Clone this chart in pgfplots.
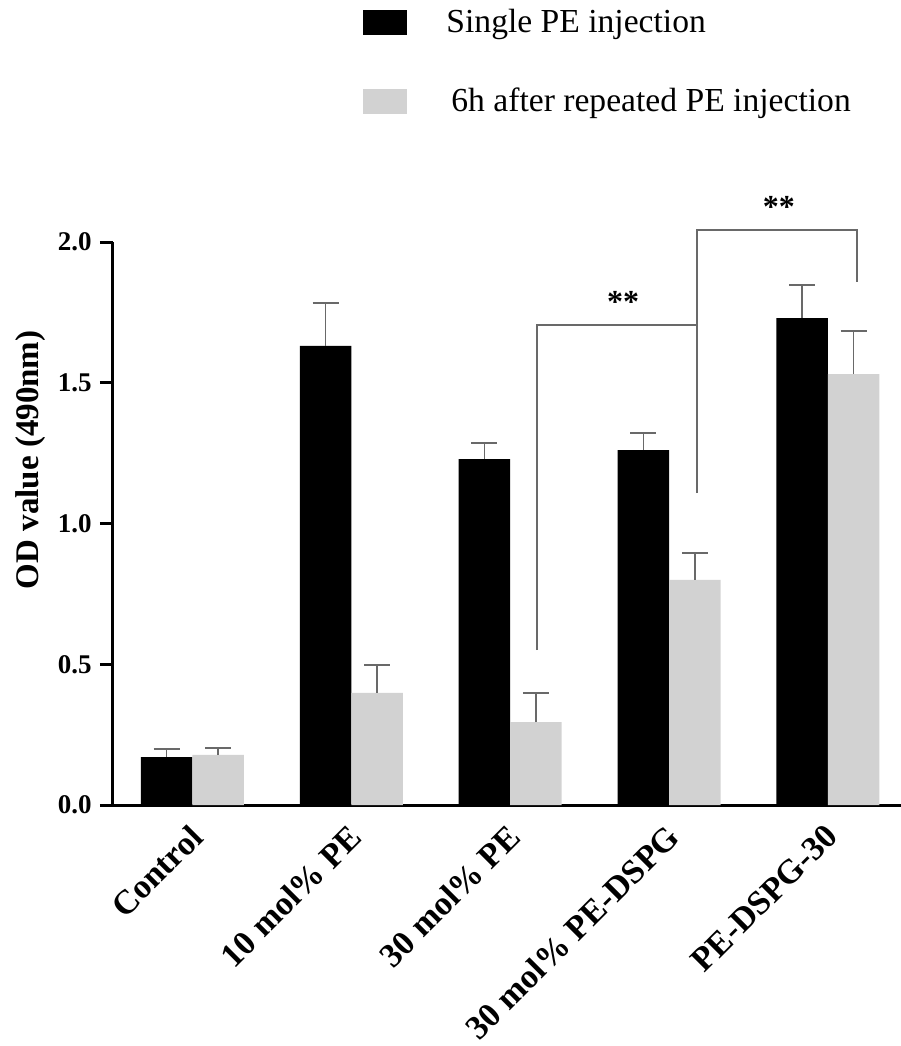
\documentclass[border=0pt]{standalone}
\usepackage{fontspec}
\setmainfont{Liberation Serif}
\usepackage{pgfplots}
\usepackage{pgfplotstable}
\pgfplotsset{compat=1.18}
\definecolor{barGray}{RGB}{210,210,210}
\definecolor{lineGray}{RGB}{105,105,105}

\pgfplotstableread{
x y err
0 0.170 0.030
1 1.631 0.152
2 1.229 0.057
3 1.261 0.060
4 1.730 0.117
}\singledata
\pgfplotstableread{
x y err
0 0.178 0.025
1 0.398 0.100
2 0.294 0.104
3 0.800 0.095
4 1.531 0.153
}\repeatdata

\begin{document}
\begin{tikzpicture}
\begin{axis}[
  scale only axis,
  width=394pt, height=281.5pt,
  xmin=-0.5, xmax=4.46,
  ymin=0, ymax=2,
  axis lines*=left,
  axis line style={-, line width=1.5pt, black},
  clip=false,
  ytick={0,0.5,1,1.5,2},
  yticklabel style={/pgf/number format/fixed, /pgf/number format/fixed zerofill, /pgf/number format/precision=1, /pgf/number format/assume math mode=true,
    font=\bfseries\fontsize{13.5}{14}\selectfont, inner sep=1pt, xshift=-3pt},
  tick align=outside,
  major tick length=6.5pt,
  ytick style={line width=1.5pt, black},
  xtick={0,1,2,3,4},
  xticklabels={Control, 10 mol\% PE, 30 mol\% PE, 30 mol\% PE-DSPG, PE-DSPG-30},
  xtick style={draw=none},
  xticklabel style={rotate=45, anchor=north east, font=\bfseries\fontsize{17}{18}\selectfont, inner sep=0pt, xshift=-3pt, yshift=0pt},
  legend style={at={(0.3173,1.3193)}, anchor=west, draw=none, fill=none, inner sep=0pt,
    font=\fontsize{16.8}{18}\selectfont, row sep=22.25pt, cells={anchor=west},
    /tikz/every odd column/.append style={column sep=17.5pt}},
  legend image code/.code={\fill (0pt,-6.25pt) rectangle (22pt,6.25pt);},
]
\addplot[ybar, bar width=0.324, bar shift=-0.162, fill=black, draw=none]
  table[x=x, y=y] {\singledata};
\addlegendentry{Single PE injection}
\addplot[ybar, bar width=0.324, bar shift=0.162, fill=barGray, draw=none]
  table[x=x, y=y] {\repeatdata};
\addlegendentry{\hspace{2.5pt}6h after repeated PE injection}

% error bars (upper only), placed at bar centres
\addplot[forget plot, draw=none, mark=none,
  error bars/.cd, y dir=plus, y explicit,
  error bar style={lineGray, line width=0.8pt},
  error mark options={lineGray, line width=0.8pt, mark size=6.5pt, rotate=90}]
  table[x expr=\thisrow{x}-0.162, y=y, y error=err] {\singledata};
\addplot[forget plot, draw=none, mark=none,
  error bars/.cd, y dir=plus, y explicit,
  error bar style={lineGray, line width=0.8pt},
  error mark options={lineGray, line width=0.8pt, mark size=6.5pt, rotate=90}]
  table[x expr=\thisrow{x}+0.162, y=y, y error=err] {\repeatdata};

% significance brackets
\draw[lineGray, line width=0.8pt] (axis cs:2.170,0.55) -- (axis cs:2.170,1.705) -- (axis cs:3.176,1.705);
\draw[lineGray, line width=0.8pt] (axis cs:3.176,1.108) -- (axis cs:3.176,2.043) -- (axis cs:4.182,2.043) -- (axis cs:4.182,1.858);
\node[font=\bfseries\fontsize{16}{16}\selectfont, inner sep=0pt, yshift=-2pt] at (axis cs:2.711,1.801) {**};
\node[font=\bfseries\fontsize{16}{16}\selectfont, inner sep=0pt, yshift=-2pt] at (axis cs:3.692,2.139) {**};

\node[rotate=90, font=\bfseries\fontsize{16.5}{17}\selectfont, inner sep=0pt] at (axis cs:-1.022,1.226) {OD value (490nm)};
\end{axis}
\pgfresetboundingbox
\useasboundingbox (-56.5pt,-120.5pt) rectangle (394pt,402.5pt);
\end{tikzpicture}
\end{document}
